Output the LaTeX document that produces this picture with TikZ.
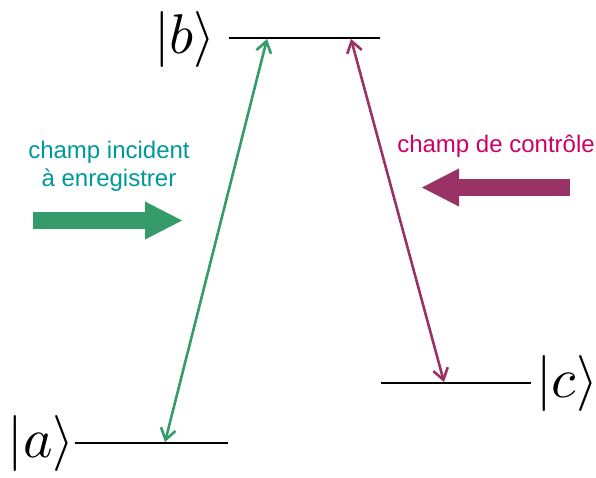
\documentclass[tikz,border=0pt]{standalone}
\usepackage{fontspec}
\setsansfont{Liberation Sans}
\usepackage{tikz}
\usetikzlibrary{arrows.meta, calc}
\definecolor{fieldgreen}{RGB}{53,155,104}
\definecolor{fieldteal}{RGB}{0,153,153}
\definecolor{ctrlpurple}{RGB}{153,51,102}
\definecolor{ctrlmagenta}{RGB}{204,0,102}
\newcommand{\bigket}[1]{\scalebox{5.6}{$|#1\rangle$}}
\tikzset{
    level/.style={line width=2.2pt, black},
    ket/.style={inner sep=0pt},
    transition/.style={line width=2.6pt, {Straight Barb[length=11pt,width=15pt]}-{Straight Barb[length=11pt,width=15pt]}},
    bigarrow/.style={line width=17pt, -{Triangle[length=38pt,width=35pt]}},
    fieldtext/.style={font=\sffamily\fontsize{24}{28}\selectfont, align=center, inner sep=0pt}
}

\begin{document}
\begin{tikzpicture}[x=1pt, y=-1pt]
\useasboundingbox (0,0) rectangle (596,477);

% Levels
\coordinate (bL) at (229,38);
\coordinate (bR) at (380,38);
\coordinate (cL) at (381,383);
\coordinate (cR) at (531,383);
\coordinate (aL) at (75,443);
\coordinate (aR) at (228,443);
\draw[level] (bL) -- (bR);
\draw[level] (cL) -- (cR);
\draw[level] (aL) -- (aR);

\node (ketb) [ket] at (185,39) {\bigket{b}};
\node (ketc) [ket] at (567,383) {\bigket{c}};
\node (keta) [ket] at (41,443) {\bigket{a}};

% Transitions
\coordinate (bg) at (267,39);
\coordinate (ag) at (165,442);
\coordinate (bp) at (351,39);
\coordinate (cp) at (444,382);
\draw[transition, fieldgreen] (bg) -- (ag);
\draw[transition, ctrlpurple] (bp) -- (cp);

% Fields
\node (incident) [fieldtext, text=fieldteal] at (109,166)
    {champ incident\\à enregistrer};
\node (control) [fieldtext, text=ctrlmagenta] at (496,146)
    {champ de contrôle};

\coordinate (inStart) at (33,220.5);
\coordinate (inEnd) at (183,220.5);
\coordinate (ctStart) at (570,187.5);
\coordinate (ctEnd) at (421,187.5);
\draw[bigarrow, fieldgreen] (inStart) -- (inEnd);
\draw[bigarrow, ctrlpurple] (ctStart) -- (ctEnd);

\end{tikzpicture}
\end{document}
